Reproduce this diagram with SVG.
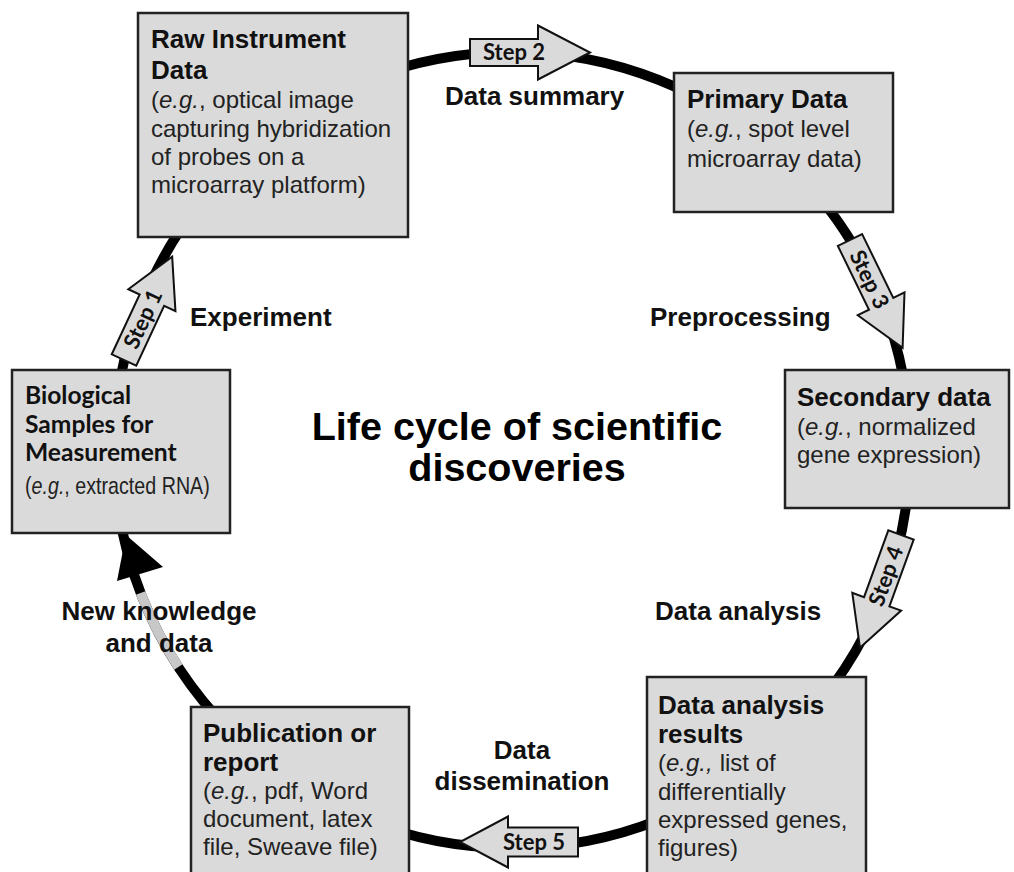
<svg xmlns="http://www.w3.org/2000/svg" width="1014" height="872" viewBox="0 0 1014 872">
<style>
.box{fill:#dadada;stroke:#222;stroke-width:2.5}
.arr{fill:#dadada;stroke:#111;stroke-width:2;stroke-linejoin:miter}
.b{font-family:"Liberation Sans",Arial,sans-serif;font-weight:bold;font-size:26px;fill:#111}
.r{font-family:"Liberation Sans",Arial,sans-serif;font-size:24px;fill:#222}
.i{font-style:italic}
.c{font-family:Lato,"Open Sans",sans-serif;font-weight:bold;font-size:24.6px;fill:#111}
.s{font-family:Lato,"Open Sans",sans-serif;font-weight:bold;font-size:22px;fill:#111}
.t{font-family:"Liberation Sans",Arial,sans-serif;font-weight:bold;font-size:39.5px;fill:#000}
.m{text-anchor:middle}
</style>
<rect width="1014" height="872" fill="#fff"/>
<g id="connectors">
<circle cx="512" cy="450" r="398" fill="none" stroke="#000" stroke-width="10"/>
<path d="M140.6 593 A398 398 0 0 0 178.4 667" fill="none" stroke="#c8c8c8" stroke-width="10"/>
<polygon points="126,535 117,581 163,567" fill="#000"/>
<g transform="translate(124,360) rotate(-65)">
<path class="arr" d="M0,-13.5 L66,-13.5 L66,-26 L114,0 L66,26 L66,13.5 L0,13.5 Z"/>
<text class="s m" x="45" y="7.5">Step 1</text>
</g>
<g transform="translate(470,52.5)">
<path class="arr" d="M0,-13.5 L68,-13.5 L68,-27 L120,0 L68,27 L68,13.5 L0,13.5 Z"/>
<text class="s m" x="44" y="7.5">Step 2</text>
</g>
<g transform="translate(850,240) rotate(64)">
<path class="arr" d="M0,-13.5 L71,-13.5 L71,-26 L120,0 L71,26 L71,13.5 L0,13.5 Z"/>
<text class="s m" x="44" y="7.5">Step 3</text>
</g>
<g transform="translate(901,535) rotate(110)">
<path class="arr" d="M0,-13.5 L71,-13.5 L71,-26 L120,0 L71,26 L71,13.5 L0,13.5 Z"/>
</g>
<g transform="translate(886,576) rotate(-70)">
<text class="s m" x="0" y="7.5">Step 4</text>
</g>
<g transform="translate(578,842) rotate(180)">
<path class="arr" d="M0,-14.5 L70,-14.5 L70,-25.5 L118,0 L70,25.5 L70,14.5 L0,14.5 Z"/>
</g>
<text class="s m" x="534" y="850">Step 5</text>
</g>
<g id="raw">
<rect class="box" x="138" y="13" width="270" height="224"/>
<text class="b" x="151" y="48">Raw Instrument</text>
<text class="b" x="151" y="79">Data</text>
<text class="r" x="151" y="108">(<tspan class="i">e.g.</tspan>, optical image</text>
<text class="r" x="151" y="137">capturing hybridization</text>
<text class="r" x="151" y="165">of probes on a</text>
<text class="r" x="151" y="193">microarray platform)</text>
</g>
<g id="primary">
<rect class="box" x="674" y="73" width="219" height="139"/>
<text class="b" x="687" y="108">Primary Data</text>
<text class="r" x="687" y="137">(<tspan class="i">e.g.</tspan>, spot level</text>
<text class="r" x="687" y="167">microarray data)</text>
</g>
<g id="secondary">
<rect class="box" x="785" y="370" width="224" height="138"/>
<text class="b" x="797" y="406">Secondary data</text>
<text class="r" x="797" y="435">(<tspan class="i">e.g.</tspan>, normalized</text>
<text class="r" x="797" y="463">gene expression)</text>
</g>
<g id="results">
<rect class="box" x="647" y="677" width="219" height="205"/>
<text class="b" x="658" y="714">Data analysis</text>
<text class="b" x="658" y="743">results</text>
<text class="r" x="658" y="771">(<tspan class="i">e.g.,</tspan><tspan dx="7">list of</tspan></text>
<text class="r" x="658" y="800">differentially</text>
<text class="r" x="658" y="828">expressed genes,</text>
<text class="r" x="658" y="856">figures)</text>
</g>
<g id="publication">
<rect class="box" x="191" y="707" width="218" height="175"/>
<text class="b" x="203" y="742">Publication or</text>
<text class="b" x="203" y="771">report</text>
<text class="r" x="203" y="799">(<tspan class="i">e.g.</tspan>, pdf, Word</text>
<text class="r" x="203" y="827">document, latex</text>
<text class="r" x="203" y="855">file, Sweave file)</text>
</g>
<g id="biological">
<rect class="box" x="12" y="370" width="218" height="163"/>
<text class="c" x="25" y="404">Biological</text>
<text class="c" x="25" y="433">Samples for</text>
<text class="c" x="25" y="461">Measurement</text>
<text class="r" transform="translate(25,494) scale(0.82,1)" x="0" y="0" font-size="22">(<tspan class="i">e.g.</tspan>, extracted RNA)</text>
</g>
<g id="labels">
<text class="b" x="445" y="105">Data summary</text>
<text class="b" x="190" y="326">Experiment</text>
<text class="b" x="650" y="326">Preprocessing</text>
<text class="b" x="655" y="620">Data analysis</text>
<text class="b m" x="159" y="620">New knowledge</text>
<text class="b m" x="159" y="652">and data</text>
<text class="b m" x="522" y="759">Data</text>
<text class="b m" x="522" y="790">dissemination</text>
<text class="t m" x="517" y="440">Life cycle of scientific</text>
<text class="t m" x="517" y="481">discoveries</text>
</g>
</svg>
